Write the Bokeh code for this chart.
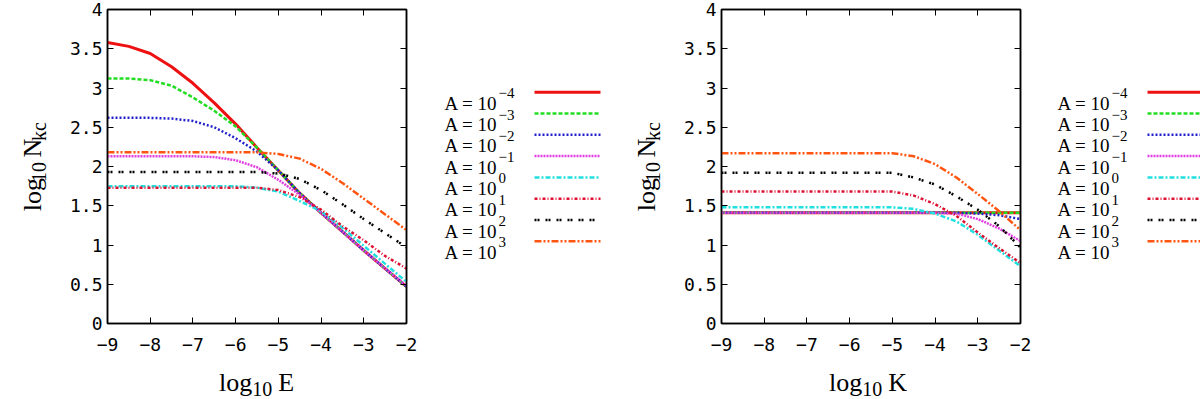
import math
from bokeh.plotting import figure
from bokeh.models import Range1d, FixedTicker, LinearAxis
from bokeh.layouts import row, column
from bokeh.embed import file_html
from bokeh.resources import INLINE
from bokeh.core.properties import value

# ---------------- data ----------------
log_E = [-9, -8.5, -8, -7.5, -7, -6.5, -6, -5.5, -5, -4.5, -4, -3.5, -3, -2.5, -2]
log_K = [-9, -8.5, -8, -7.5, -7, -6.5, -6, -5.5, -5, -4.5, -4, -3.5, -3, -2.5, -2]

A_exponents = ["−4", "−3", "−2", "−1", "0", "1", "2", "3"]

# left panel: log10 Nkc vs log10 E
NE_A_m4 = [3.58, 3.53, 3.44, 3.27, 3.06, 2.81, 2.54, 2.24, 1.95, 1.66, 1.41, 1.17, 0.93, 0.70, 0.47]
NE_A_m3 = [3.12, 3.12, 3.10, 3.03, 2.88, 2.71, 2.51, 2.24, 1.95, 1.66, 1.41, 1.17, 0.93, 0.70, 0.47]
NE_A_m2 = [2.62, 2.62, 2.62, 2.61, 2.58, 2.50, 2.36, 2.19, 1.95, 1.66, 1.41, 1.17, 0.93, 0.70, 0.47]
NE_A_m1 = [2.13, 2.13, 2.13, 2.13, 2.13, 2.12, 2.08, 1.99, 1.83, 1.64, 1.41, 1.17, 0.93, 0.70, 0.48]
NE_A_0 = [1.75, 1.75, 1.75, 1.75, 1.75, 1.75, 1.75, 1.73, 1.68, 1.56, 1.43, 1.22, 0.99, 0.76, 0.53]
NE_A_1 = [1.73, 1.73, 1.73, 1.73, 1.73, 1.73, 1.73, 1.73, 1.70, 1.61, 1.45, 1.24, 1.06, 0.86, 0.70]
NE_A_2 = [1.93, 1.93, 1.93, 1.93, 1.93, 1.93, 1.93, 1.93, 1.91, 1.84, 1.70, 1.52, 1.33, 1.15, 0.97]
NE_A_3 = [2.18, 2.18, 2.18, 2.18, 2.18, 2.18, 2.18, 2.18, 2.16, 2.10, 1.97, 1.79, 1.59, 1.39, 1.19]

# right panel: log10 Nkc vs log10 K
NK_A_m4 = [1.41, 1.41, 1.41, 1.41, 1.41, 1.41, 1.41, 1.41, 1.41, 1.41, 1.41, 1.41, 1.41, 1.41, 1.41]
NK_A_m3 = [1.41, 1.41, 1.41, 1.41, 1.41, 1.41, 1.41, 1.41, 1.41, 1.41, 1.41, 1.41, 1.41, 1.41, 1.41]
NK_A_m2 = [1.41, 1.41, 1.41, 1.41, 1.41, 1.41, 1.41, 1.41, 1.41, 1.41, 1.41, 1.41, 1.40, 1.38, 1.33]
NK_A_m1 = [1.41, 1.41, 1.41, 1.41, 1.41, 1.41, 1.41, 1.41, 1.41, 1.41, 1.41, 1.40, 1.33, 1.21, 1.05]
NK_A_0 = [1.48, 1.48, 1.48, 1.48, 1.48, 1.48, 1.48, 1.48, 1.48, 1.46, 1.40, 1.30, 1.13, 0.93, 0.73]
NK_A_1 = [1.68, 1.68, 1.68, 1.68, 1.68, 1.68, 1.68, 1.68, 1.68, 1.63, 1.52, 1.37, 1.16, 0.96, 0.77]
NK_A_2 = [1.92, 1.92, 1.92, 1.92, 1.92, 1.92, 1.92, 1.92, 1.92, 1.86, 1.77, 1.62, 1.45, 1.24, 0.97]
NK_A_3 = [2.17, 2.17, 2.17, 2.17, 2.17, 2.17, 2.17, 2.17, 2.17, 2.13, 2.03, 1.86, 1.65, 1.43, 1.19]

x_ticks = [-9, -8, -7, -6, -5, -4, -3, -2]
x_tick_labels = ["−9", "−8", "−7", "−6", "−5", "−4", "−3", "−2"]
y_ticks = [0, 0.5, 1, 1.5, 2, 2.5, 3, 3.5, 4]
y_tick_labels = ["0", "0.5", "1", "1.5", "2", "2.5", "3", "3.5", "4"]

# ---------------- styles ----------------
colors = ["#ee1111", "#22dd22", "#2222cc", "#e040e0", "#22e0e0", "#dd1133", "#000000", "#ff5511"]
dashes = ["solid", "4 2", "2 2", "2 1", "5 2 2 2", "3 2 1 2", "2 1 2 6", "7 2 2 2 2 2"]
widths = [3, 2.5, 2.5, 2.5, 2.5, 2.5, 2.5, 2.5]

SERIF = "Liberation Serif"
TOP = 9
FW = 299
FH = 314
MAIN_H = 358
XLAB_H = 41
TOTAL_H = MAIN_H + XLAB_H
MAIN = 26
SUB = 20
METRIC = {'l': 0.278, 'o': 0.5, 'g': 0.5, '1': 0.5, '0': 0.5, 'N': 0.722,
          'k': 0.5, 'c': 0.444, 'E': 0.611, 'K': 0.722, ' ': 0.25}


def tw(s, size):
    return sum(METRIC.get(ch, 0.5) for ch in s) * size


def blank(W, H):
    q = figure(width=W, height=H, x_range=Range1d(0, W), y_range=Range1d(0, H),
               x_axis_type=None, y_axis_type=None, output_backend="svg",
               toolbar_location=None, min_border=0,
               background_fill_color="white", border_fill_color="white")
    q.outline_line_color = None
    q.grid.visible = False
    return q


def put(q, H, x, py, txt, size, angle=0.0):
    q.text([x], [H - py], text=[txt], text_font=value(SERIF),
           text_font_size=f"{size}px", text_baseline="alphabetic",
           text_align="left", text_color="black", angle=angle)


def panel(L, R, xs, series):
    p = figure(frame_width=FW, frame_height=FH,
               x_range=Range1d(-9, -2), y_range=Range1d(0, 4),
               output_backend="svg", toolbar_location=None,
               min_border_left=L, min_border_right=R, min_border_top=TOP,
               min_border_bottom=MAIN_H - TOP - FH,
               background_fill_color="white", border_fill_color="white")
    p.xgrid.visible = False
    p.ygrid.visible = False
    p.outline_line_color = "black"
    p.outline_line_width = 1.5

    for ys, c, d, w in zip(series, colors, dashes, widths):
        p.line(xs, ys, line_color=c, line_dash=d, line_width=w)

    xt = FixedTicker(ticks=x_ticks)
    yt = FixedTicker(ticks=y_ticks)
    top = LinearAxis(ticker=xt)
    right = LinearAxis(ticker=yt)
    p.add_layout(top, "above")
    p.add_layout(right, "right")
    for ax in (top, right):
        ax.major_label_text_font_size = "0px"
        ax.major_label_text_color = None
        ax.major_label_standoff = 0

    p.xaxis.ticker = xt
    p.yaxis.ticker = yt
    p.below[0].major_label_overrides = {t: s for t, s in zip(x_ticks, x_tick_labels)}
    p.left[0].major_label_overrides = {t: s for t, s in zip(y_ticks, y_tick_labels)}
    for ax in p.xaxis + p.yaxis:
        ax.major_tick_in = 6
        ax.major_tick_out = 0
        ax.minor_tick_line_color = None
        ax.axis_line_width = 1.5
        ax.axis_line_color = "black"
        ax.major_tick_line_color = "black"
        ax.major_tick_line_width = 1
        ax.major_label_text_font = "DejaVu Sans Mono"
    for ax in (p.below[0], p.left[0]):
        ax.major_label_text_color = "black"
        ax.major_label_text_font_size = "18px"
    p.below[0].major_label_standoff = 14
    p.left[0].major_label_standoff = 5
    return p


def xlabel_fig(W, center, var):
    q = blank(W, XLAB_H)
    gap = 6
    total = tw("log", MAIN) + tw("10", SUB) + gap + tw(var, MAIN)
    s = center - total / 2
    base = 24
    put(q, XLAB_H, s, base, "log", MAIN)
    put(q, XLAB_H, s + tw("log", MAIN), base + 6, "10", SUB)
    put(q, XLAB_H, s + tw("log", MAIN) + tw("10", SUB) + gap, base, var, MAIN)
    return q


def ylabel_fig(W, base_x):
    q = blank(W, MAIN_H)
    gap = 8
    s = 230
    a = math.pi / 2
    put(q, MAIN_H, base_x, s, "log", MAIN, a)
    s -= tw("log", MAIN)
    put(q, MAIN_H, base_x + 6, s, "10", SUB, a)
    s -= tw("10", SUB) + gap
    put(q, MAIN_H, base_x, s, "N", MAIN, a)
    s -= tw("N", MAIN)
    put(q, MAIN_H, base_x + 6, s, "kc", SUB, a)
    return q


def legend_fig(W):
    q = blank(W, TOTAL_H)
    for i, (e, c, d, w) in enumerate(zip(A_exponents, colors, dashes, widths)):
        ly = 91.7 + 21.3 * i
        q.line([113, W - 1], [TOTAL_H - ly, TOTAL_H - ly], line_color=c, line_dash=d, line_width=w)
        put(q, TOTAL_H, 23, ly + 11, "A = 10", 19)
        put(q, TOTAL_H, 77, ly + 1, e, 15)
    return q


seriesE = [NE_A_m4, NE_A_m3, NE_A_m2, NE_A_m1, NE_A_0, NE_A_1, NE_A_2, NE_A_3]
seriesK = [NK_A_m4, NK_A_m3, NK_A_m2, NK_A_m1, NK_A_0, NK_A_1, NK_A_2, NK_A_3]

# left group (page x 0..420)
y1 = ylabel_fig(66, 32)
p1 = panel(40, 15, log_E, seriesE)
x1 = xlabel_fig(420, 256, "E")
g1 = column(row(y1, p1), x1)
l1 = legend_fig(180)

# right group (page x 600..1030)
y2 = ylabel_fig(79, 45)
p2 = panel(38, 14, log_K, seriesK)
x2 = xlabel_fig(430, 266.5, "K")
g2 = column(row(y2, p2), x2)
l2 = legend_fig(170)

layout = row(g1, l1, g2, l2)
open("out.html", "w").write(file_html(layout, INLINE))
